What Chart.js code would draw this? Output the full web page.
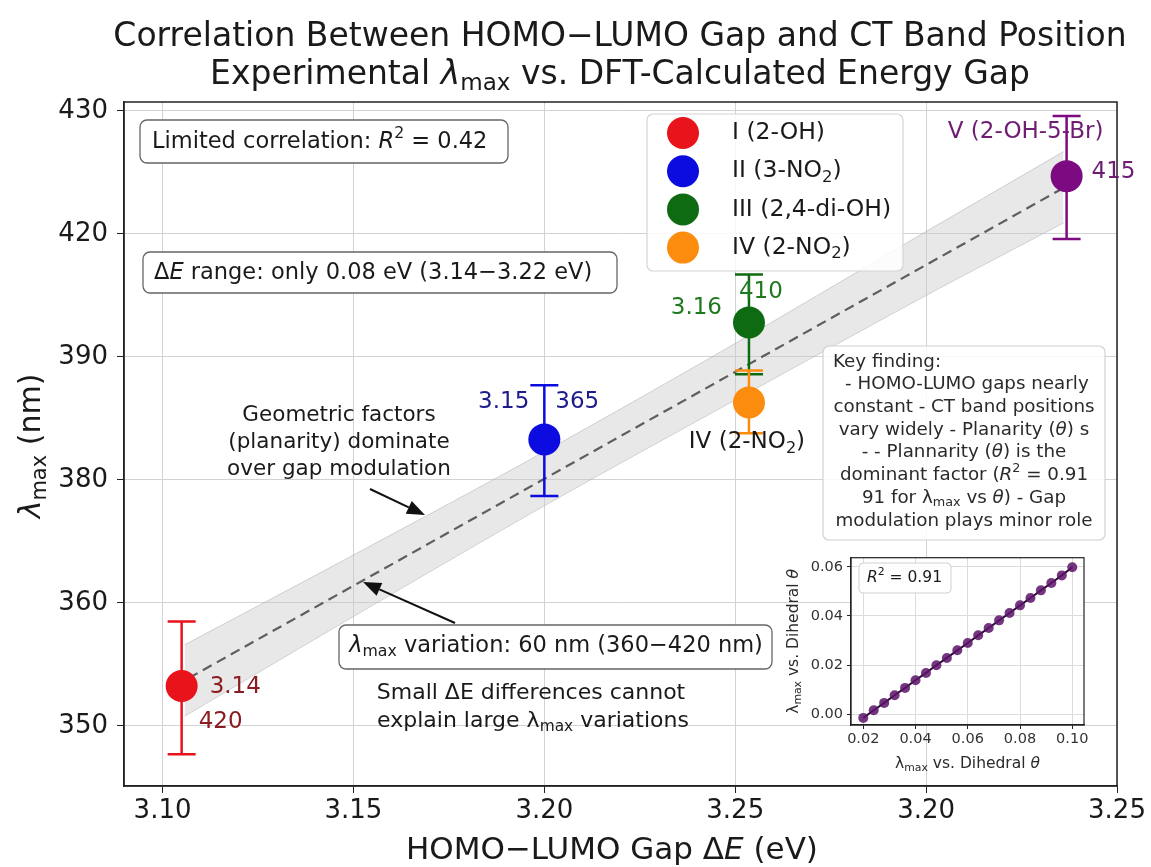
<!DOCTYPE html>
<html>
<head>
<meta charset="utf-8">
<script src="https://cdn.jsdelivr.net/npm/chart.js@4.4.1/dist/chart.umd.min.js"></script>
<style>
  html, body { margin: 0; padding: 0; background: #fff; }
  #wrap { position: relative; width: 1151px; height: 867px; overflow: hidden; }
  #main { position: absolute; left: 0; top: 0; }
  #inset { position: absolute; left: 780px; top: 545px; }
</style>
</head>
<body>
<div id="wrap">
  <canvas id="main" width="1151" height="867"></canvas>
  <canvas id="inset" width="320" height="232"></canvas>
</div>
<script>
const FONT = '"DejaVu Sans", sans-serif';

// compounds (legend shows the first four)
const compounds = ['I (2-OH)', 'II (3-NO_{2})', 'III (2,4-di-OH)', 'IV (2-NO_{2})', 'V (2-OH-5-Br)'];
const gapEV = [3.105, 3.200, 3.2536, 3.2536, 3.3368];
const lambdaNm = [353.25, 373.3, 382.8, 376.3, 394.7];
const errLowNm = [347.7, 368.7, 378.6, 373.8, 389.6];
const errHighNm = [358.5, 377.7, 386.7, 378.9, 399.6];

// linear fit + shaded band
const fitX = [3.1069, 3.3363];
const fitY = [353.9, 393.8];
const bandX = [3.1058, 3.15, 3.20, 3.25, 3.30, 3.336];
const bandUpper = [356.6, 363.9, 372.3, 381.1, 390.2, 396.7];
const bandLower = [350.8, 358.9, 367.9, 376.5, 385.0, 390.9];

// tick labels as printed on the axes (not monotonic in the original)
const xTickLabels = ['3.10', '3.15', '3.20', '3.25', '3.20', '3.25'];
const yTickLabels = ['350', '360', '380', '390', '420', '430'];

// inset: lambda_max vs dihedral
const insetTheta = [0.020, 0.024, 0.028, 0.032, 0.036, 0.040, 0.044, 0.048, 0.052, 0.056, 0.060,
                    0.064, 0.068, 0.072, 0.076, 0.080, 0.084, 0.088, 0.092, 0.096, 0.100];
const insetLambda = [-0.0015, 0.0016, 0.0046, 0.0077, 0.0107, 0.0138, 0.0168, 0.0199, 0.0229, 0.0260, 0.0290,
                     0.0321, 0.0351, 0.0382, 0.0412, 0.0443, 0.0473, 0.0504, 0.0534, 0.0565, 0.0598];

const markerColors = ['#e8131b', '#0c0ce0', '#0e6b12', '#fb8c0e', '#7c0a80'];

// --- small text helper: $..$ italic, _{..} subscript, ^{..} superscript
function parseRich(str) {
    const segs = [];
    let it = false, i = 0, buf = '';
    const flush = () => { if (buf) segs.push({ t: buf, s: 'n', it }); buf = ''; };
    while (i < str.length) {
        const c = str[i];
        if (c === '$') { flush(); it = !it; i++; continue; }
        if ((c === '_' || c === '^') && str[i + 1] === '{') {
            flush();
            const end = str.indexOf('}', i);
            segs.push({ t: str.slice(i + 2, end), s: c === '_' ? 'sub' : 'sup', it: false });
            i = end + 1;
            continue;
        }
        buf += c; i++;
    }
    flush();
    return segs;
}

function segFont(seg, size) {
    const sz = seg.s === 'n' ? size : size * 0.7;
    return (seg.it ? 'italic ' : '') + sz + 'px ' + FONT;
}

function richWidth(ctx, str, size) {
    let w = 0;
    parseRich(str).forEach(seg => { ctx.font = segFont(seg, size); w += ctx.measureText(seg.t).width; });
    return w;
}

function drawRich(ctx, str, x, y, size, color, align) {
    const segs = parseRich(str);
    const w = richWidth(ctx, str, size);
    let cx = align === 'center' ? x - w / 2 : align === 'right' ? x - w : x;
    ctx.save();
    ctx.fillStyle = color;
    ctx.textBaseline = 'middle';
    ctx.textAlign = 'left';
    segs.forEach(seg => {
        ctx.font = segFont(seg, size);
        let dy = 0;
        if (seg.s === 'sub') dy = size * 0.28;
        if (seg.s === 'sup') dy = -size * 0.36;
        ctx.fillText(seg.t, cx, y + dy);
        cx += ctx.measureText(seg.t).width;
    });
    ctx.restore();
}

function roundBox(ctx, x, y, w, h, r, fill, stroke, lw) {
    ctx.save();
    ctx.beginPath();
    ctx.roundRect(x, y, w, h, r);
    ctx.fillStyle = fill;
    ctx.fill();
    ctx.lineWidth = lw;
    ctx.strokeStyle = stroke;
    ctx.stroke();
    ctx.restore();
}

function arrow(ctx, x1, y1, x2, y2) {
    const a = Math.atan2(y2 - y1, x2 - x1), hl = 18, hw = 7;
    const bx = x2 - hl * Math.cos(a), by = y2 - hl * Math.sin(a);
    ctx.save();
    ctx.strokeStyle = '#111';
    ctx.fillStyle = '#111';
    ctx.lineWidth = 2;
    ctx.beginPath(); ctx.moveTo(x1, y1); ctx.lineTo(bx, by); ctx.stroke();
    ctx.beginPath();
    ctx.moveTo(x2, y2);
    ctx.lineTo(bx + hw * Math.sin(a), by - hw * Math.cos(a));
    ctx.lineTo(bx - hw * Math.sin(a), by + hw * Math.cos(a));
    ctx.closePath(); ctx.fill();
    ctx.restore();
}

// labels next to points: [point index, text, dx, dy, align, colour]
const pointNotes = [
    [0, '3.14', 28, 1, 'left', '#8a1c22'],
    [0, '420', 17, 36, 'left', '#8a1c22'],
    [1, '3.15', -15, -37, 'right', '#1c1c8c'],
    [1, '365', 11, -37, 'left', '#1c1c8c'],
    [2, '3.16', -27, -15, 'right', '#1f7a1f'],
    [2, '410', -10, -31, 'left', '#1f7a1f'],
    [3, 'IV (2-NO_{2})', -2, 40, 'center', '#1a1a1a'],
    [4, 'V (2-OH-5-Br)', -41, -44, 'center', '#6e1d72'],
    [4, '415', 25, -4, 'left', '#6e1d72']
];

const keyLines = [
    ['Key finding:', 'left', 362],
    [' - HOMO-LUMO gaps nearly', 'center', 384],
    ['constant - CT band positions', 'center', 407],
    ['vary widely - Planarity ($θ$) s', 'center', 430],
    ['- - Plannarity ($θ$) is the', 'center', 452],
    ['dominant factor ($R$^{2} = 0.91', 'center', 475],
    ['91 for λ_{max} vs $θ$) - Gap', 'center', 498],
    ['modulation plays minor role', 'center', 521]
];

const FIT_INDEX = 1;

const decor = {
    id: 'decor',
    beforeDraw(chart) {
        const ctx = chart.ctx;
        ctx.save();
        ctx.fillStyle = '#fff';
        ctx.fillRect(0, 0, chart.width, chart.height);
        ctx.restore();
    },
    afterDatasetDraw(chart, args) {
        if (args.index !== FIT_INDEX) return;
        // error bars, under the markers
        const ctx = chart.ctx, xs = chart.scales.x, ys = chart.scales.y;
        ctx.save();
        ctx.lineWidth = 2.5;
        gapEV.forEach((g, i) => {
            const px = xs.getPixelForValue(g);
            const lo = ys.getPixelForValue(errLowNm[i]);
            const hi = ys.getPixelForValue(errHighNm[i]);
            ctx.strokeStyle = markerColors[i];
            ctx.beginPath();
            ctx.moveTo(px, lo); ctx.lineTo(px, hi);
            ctx.moveTo(px - 14, lo); ctx.lineTo(px + 14, lo);
            ctx.moveTo(px - 14, hi); ctx.lineTo(px + 14, hi);
            ctx.stroke();
        });
        ctx.restore();
    },
    afterDraw(chart) {
        const ctx = chart.ctx, a = chart.chartArea, xs = chart.scales.x, ys = chart.scales.y;

        // frame
        ctx.save();
        ctx.strokeStyle = '#222';
        ctx.lineWidth = 1.5;
        ctx.strokeRect(a.left, a.top, a.right - a.left, a.bottom - a.top);
        ctx.restore();

        // titles
        drawRich(ctx, 'Correlation Between HOMO−LUMO Gap and CT Band Position', 620, 37, 33, '#1a1a1a', 'center');
        drawRich(ctx, 'Experimental $λ$_{max} vs. DFT-Calculated Energy Gap', 620, 75, 33, '#1a1a1a', 'center');
        drawRich(ctx, 'HOMO−LUMO Gap Δ$E$ (eV)', 612, 851, 31, '#1a1a1a', 'center');
        ctx.save();
        ctx.translate(32, 446);
        ctx.rotate(-Math.PI / 2);
        drawRich(ctx, '$λ$_{max} (nm)', 0, 0, 30, '#1a1a1a', 'center');
        ctx.restore();

        // point labels
        pointNotes.forEach(([i, t, dx, dy, al, col]) => {
            const px = xs.getPixelForValue(gapEV[i]);
            const py = ys.getPixelForValue(lambdaNm[i]);
            drawRich(ctx, t, px + dx, py + dy, 23, col, al);
        });

        // legend
        roundBox(ctx, 647, 114, 256, 157, 6, 'rgba(255,255,255,0.85)', '#d4d4d4', 1.2);
        compounds.slice(0, 4).forEach((name, i) => {
            const cy = 133 + i * 38.2;
            ctx.save();
            ctx.fillStyle = markerColors[i];
            ctx.beginPath(); ctx.arc(683, cy, 16, 0, Math.PI * 2); ctx.fill();
            ctx.restore();
            drawRich(ctx, name, 732, cy, 23.5, '#1a1a1a', 'left');
        });

        // text boxes
        roundBox(ctx, 140, 120, 368, 43, 7, '#fff', '#666', 1.3);
        drawRich(ctx, 'Limited correlation: $R$^{2} = 0.42', 152, 142, 22.5, '#1a1a1a', 'left');
        roundBox(ctx, 143, 252, 474, 41, 7, '#fff', '#666', 1.3);
        drawRich(ctx, 'Δ$E$ range: only 0.08 eV (3.14−3.22 eV)', 154, 273, 22.5, '#1a1a1a', 'left');
        roundBox(ctx, 339, 625, 433, 44, 7, '#fff', '#666', 1.3);
        drawRich(ctx, '$λ$_{max} variation: 60 nm (360−420 nm)', 556, 646, 22.5, '#1a1a1a', 'center');

        drawRich(ctx, 'Geometric factors', 339, 415, 21.5, '#1a1a1a', 'center');
        drawRich(ctx, '(planarity) dominate', 339, 442, 21.5, '#1a1a1a', 'center');
        drawRich(ctx, 'over gap modulation', 339, 469, 21.5, '#1a1a1a', 'center');
        arrow(ctx, 370, 489, 425, 515);
        arrow(ctx, 455, 623, 363, 582);

        drawRich(ctx, 'Small ΔE differences cannot', 531, 693, 22, '#1a1a1a', 'center');
        drawRich(ctx, 'explain large λ_{max} variations', 533, 721, 22, '#1a1a1a', 'center');

        // key finding box
        roundBox(ctx, 823, 346, 282, 194, 6, 'rgba(255,255,255,0.85)', '#d0d0d0', 1.2);
        keyLines.forEach(([t, al, y]) => {
            drawRich(ctx, t, al === 'left' ? 833 : 964, y, 18.3, '#2a2a2a', al);
        });
    }
};

new Chart(document.getElementById('main').getContext('2d'), {
    type: 'scatter',
    data: {
        datasets: [
            {
                label: 'compounds',
                data: gapEV.map((g, i) => ({ x: g, y: lambdaNm[i] })),
                pointRadius: 16,
                pointHoverRadius: 16,
                pointBackgroundColor: markerColors,
                pointBorderWidth: 0,
                order: 1
            },
            {
                label: 'fit',
                data: fitX.map((x, i) => ({ x, y: fitY[i] })),
                showLine: true,
                borderColor: '#5e5e5e',
                borderWidth: 2.2,
                borderDash: [10, 6],
                pointRadius: 0,
                order: 2
            },
            {
                label: 'band upper',
                data: bandX.map((x, i) => ({ x, y: bandUpper[i] })),
                showLine: true,
                borderWidth: 1,
                borderColor: 'rgba(170,170,170,0.5)',
                pointRadius: 0,
                tension: 0.3,
                fill: '+1',
                backgroundColor: 'rgba(200,200,200,0.42)',
                order: 3
            },
            {
                label: 'band lower',
                data: bandX.map((x, i) => ({ x, y: bandLower[i] })),
                showLine: true,
                borderWidth: 1,
                borderColor: 'rgba(170,170,170,0.5)',
                pointRadius: 0,
                tension: 0.3,
                order: 4
            }
        ]
    },
    options: {
        responsive: false,
        animation: false,
        devicePixelRatio: 1,
        layout: { padding: { left: 0, right: 34, top: 102, bottom: 0 } },
        plugins: { legend: { display: false }, tooltip: { enabled: false } },
        scales: {
            x: {
                type: 'linear',
                min: 3.0899,
                max: 3.35,
                afterFit: s => { s.height = 81; },
                grid: { color: '#d2d2d2', lineWidth: 1, tickLength: 7, tickColor: '#222' },
                border: { color: '#222', width: 1.5 },
                ticks: {
                    stepSize: 0.05,
                    includeBounds: false,
                    padding: 3,
                    color: '#1a1a1a',
                    font: { family: 'DejaVu Sans', size: 26 },
                    maxRotation: 0,
                    callback: v => xTickLabels[Math.round((v - 3.10) / 0.05)] ?? ''
                }
            },
            y: {
                type: 'linear',
                min: 345.12,
                max: 400.73,
                afterFit: s => { s.width = 124; },
                grid: { color: '#d2d2d2', lineWidth: 1, tickLength: 7, tickColor: '#222' },
                border: { color: '#222', width: 1.5 },
                ticks: {
                    stepSize: 10,
                    includeBounds: false,
                    padding: 9,
                    color: '#1a1a1a',
                    font: { family: 'DejaVu Sans', size: 26 },
                    callback: v => yTickLabels[Math.round((v - 350) / 10)] ?? ''
                }
            }
        }
    },
    plugins: [decor]
});

// ---------- inset ----------
const insetDecor = {
    id: 'insetDecor',
    beforeDraw(chart) {
        const ctx = chart.ctx, a = chart.chartArea;
        ctx.save();
        ctx.fillStyle = '#fff';
        ctx.fillRect(a.left, a.top, a.right - a.left, a.bottom - a.top);
        ctx.restore();
    },
    afterDraw(chart) {
        const ctx = chart.ctx, a = chart.chartArea;
        ctx.save();
        ctx.strokeStyle = '#222';
        ctx.lineWidth = 1.2;
        ctx.strokeRect(a.left, a.top, a.right - a.left, a.bottom - a.top);
        ctx.restore();
        roundBox(ctx, 79, 18, 92, 30, 4, 'rgba(255,255,255,0.9)', '#d0d0d0', 1);
        drawRich(ctx, '$R$^{2} = 0.91', 87, 33, 15.5, '#1a1a1a', 'left');
        drawRich(ctx, 'λ_{max} vs. Dihedral $θ$', (a.left + a.right) / 2, 219, 15.5, '#2a2a2a', 'center');
        ctx.save();
        ctx.translate(14, (a.top + a.bottom) / 2);
        ctx.rotate(-Math.PI / 2);
        drawRich(ctx, 'λ_{max} vs. Dihedral $θ$', 0, 0, 15.5, '#2a2a2a', 'center');
        ctx.restore();
    }
};

new Chart(document.getElementById('inset').getContext('2d'), {
    type: 'scatter',
    data: {
        datasets: [{
            data: insetTheta.map((t, i) => ({ x: t, y: insetLambda[i] })),
            showLine: true,
            borderColor: '#2c0a33',
            borderWidth: 2,
            pointRadius: 5,
            pointBackgroundColor: 'rgba(92,20,104,0.85)',
            pointBorderWidth: 0
        }]
    },
    options: {
        responsive: false,
        animation: false,
        devicePixelRatio: 1,
        layout: { padding: { left: 0, right: 16, top: 10, bottom: 0 } },
        plugins: { legend: { display: false }, tooltip: { enabled: false } },
        scales: {
            x: {
                type: 'linear',
                min: 0.0153,
                max: 0.1045,
                afterFit: s => { s.height = 52; },
                grid: { color: '#dcdcdc', tickLength: 4, tickColor: '#222' },
                border: { color: '#222', width: 1.2 },
                ticks: {
                    stepSize: 0.02, includeBounds: false, padding: 2, maxRotation: 0,
                    color: '#333', font: { family: 'DejaVu Sans', size: 14.5 },
                    callback: v => v.toFixed(2)
                }
            },
            y: {
                type: 'linear',
                min: -0.0044,
                max: 0.0637,
                afterFit: s => { s.width = 71; },
                grid: { color: '#dcdcdc', tickLength: 4, tickColor: '#222' },
                border: { color: '#222', width: 1.2 },
                ticks: {
                    stepSize: 0.02, includeBounds: false, padding: 4,
                    color: '#333', font: { family: 'DejaVu Sans', size: 14.5 },
                    callback: v => v.toFixed(2)
                }
            }
        }
    },
    plugins: [insetDecor]
});
</script>
</body>
</html>
